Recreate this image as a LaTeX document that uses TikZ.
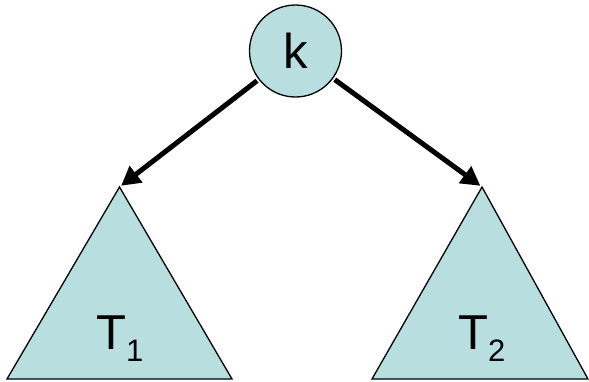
\documentclass[tikz,border=0pt]{standalone}
\usepackage{fontspec}
\setmainfont{Liberation Sans}
\usetikzlibrary{arrows.meta}
\definecolor{treefill}{HTML}{B9DEE0}

\begin{document}
\begin{tikzpicture}[x=1pt,y=-1pt,
  kn/.style={circle,draw=black,line width=1.3pt,fill=treefill,minimum size=92pt,inner sep=0pt,font=\fontsize{49}{50}\selectfont},
  tri/.style={draw=black,line width=1.3pt,fill=treefill,line join=miter},
  lab/.style={anchor=base west,inner sep=0pt,font=\fontsize{49}{50}\selectfont},
  ar/.style={-{Triangle[length=19pt,width=20pt]},line width=5pt,shorten <=2pt,shorten >=2pt}]
\useasboundingbox (0,0) rectangle (589,381);
\draw[tri] (7,379) -- (119.5,187) coordinate (t1top) -- (232,379) -- cycle;
\draw[tri] (372,379) -- (482,187) coordinate (t2top) -- (588,379) -- cycle;
\node[kn] (k) at (295.5,51) {k};
\node[lab] (t1) at (96,349) {T\raisebox{-12pt}{\fontsize{31}{32}\selectfont 1}};
\node[lab] (t2) at (458,349) {T\raisebox{-12pt}{\fontsize{31}{32}\selectfont 2}};
\draw[ar] (k) -- (t1top);
\draw[ar] (k) -- (t2top);
\end{tikzpicture}
\end{document}
